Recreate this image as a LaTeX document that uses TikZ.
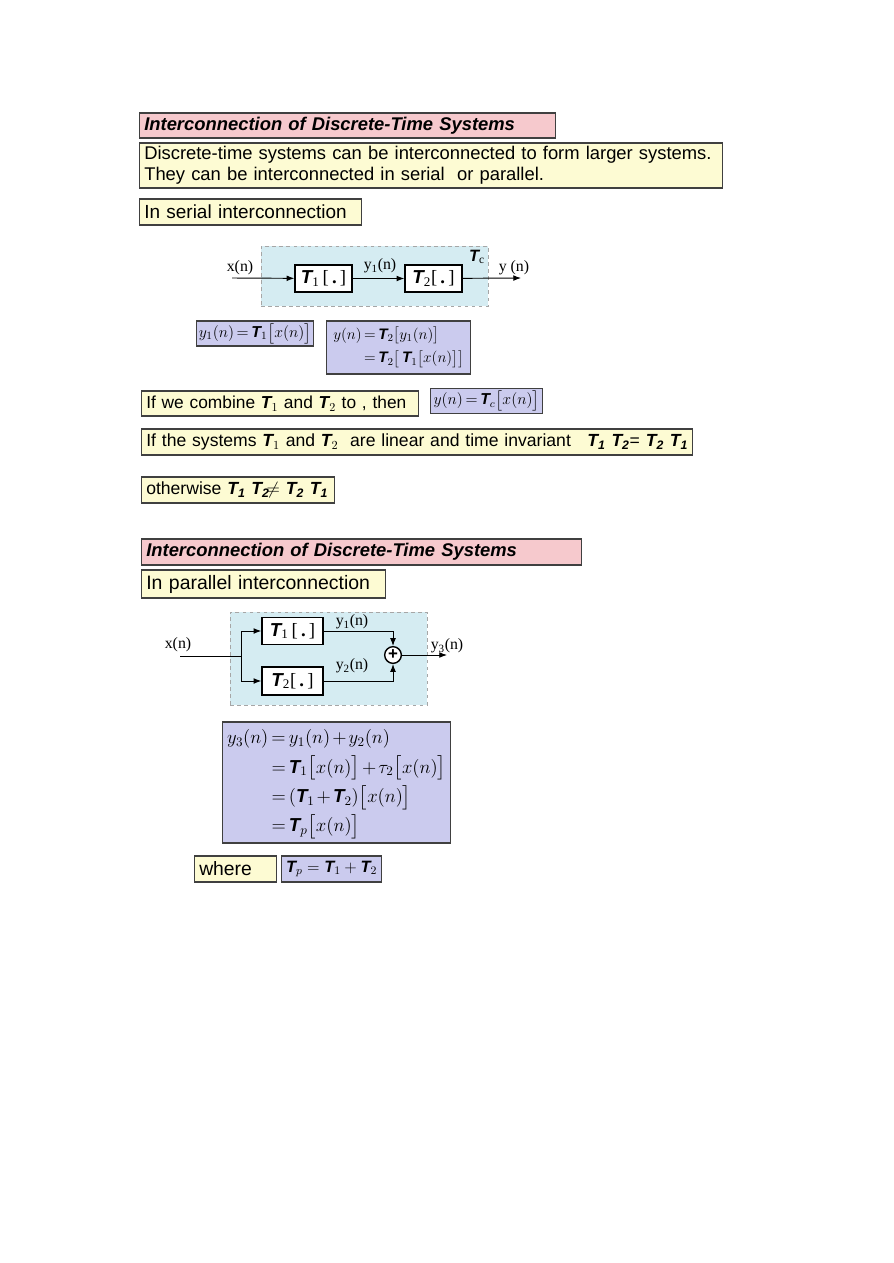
\RequirePackage{fix-cm}
\documentclass[tikz,border=0pt]{standalone}
\usepackage{amsmath}
\usepackage{fontspec}
\setmainfont{Liberation Sans}
\setsansfont{Liberation Sans}
\newfontfamily\serif{Liberation Serif}
\usetikzlibrary{arrows.meta, positioning}
\definecolor{pinkbg}{HTML}{F6C9CD}
\definecolor{yellowbg}{HTML}{FDFBD3}
\definecolor{lilacbg}{HTML}{CBCBEE}
\definecolor{bluebg}{HTML}{D5ECF2}
\newcommand{\TT}{\text{\sffamily\bfseries\itshape T}}
\newcommand{\Tbi}[1]{{\bfseries\itshape T\textsubscript{#1}}}
\newcommand{\fs}[1]{\fontsize{#1}{1.2\dimexpr#1pt\relax}\selectfont}
\newcommand{\tightmath}{\thickmuskip=3mu\relax\medmuskip=2mu\relax}

\begin{document}
\begin{tikzpicture}[x=0.03cm, y=-0.03cm,
  box/.style={draw=black!75, line width=1pt, anchor=west, align=left, inner xsep=4pt, inner ysep=2pt},
  titlebox/.style={box, fill=pinkbg, font=\fs{15.7}\bfseries\itshape},
  textbox/.style={box, fill=yellowbg, font=\fs{15.7}},
  eqbox/.style={box, fill=lilacbg, inner xsep=2pt, font=\fs{13.5}\tightmath},
  area/.style={draw=black!35, dashed, fill=bluebg},
  sysbox/.style={draw, line width=1.2pt, fill=white, minimum height=0.81cm, minimum width=1.71cm, font=\fs{16}},
  lbl/.style={font=\serif\fs{13.5}, inner sep=1pt},
  arr/.style={-{Latex}, thick}
]
\useasboundingbox (0,0) rectangle (893,1263);

\node[titlebox, text width=12.2cm, minimum height=0.75cm] (title1) at (139,125.5) {Interconnection of Discrete-Time Systems};
\node[textbox, text width=17.21cm, minimum height=1.35cm, font=\fontsize{15.7}{18}\selectfont] (intro) at (139,165.5) {Discrete-time systems can be interconnected to form larger systems.\\They can be interconnected in serial \ or parallel.};
\node[textbox, text width=6.38cm, minimum height=0.78cm, font=\fs{16.2}] (serial) at (139,212) {In serial interconnection};

\node[area, minimum width=6.81cm, minimum height=1.8cm] (ser) at (374.5,276) {};
\node[sysbox] (t1) at (323.5,278.5) {\TT\textsubscript{\serif 1}\,{\serif[\,\textbf{.}\,]}};
\node[sysbox] (t2) at (433.5,278.5) {\TT\textsubscript{\serif 2}{\serif[\,\textbf{.}\,]}};
\coordinate (xin) at (232,278);
\coordinate (yout) at (521,278);
\draw[arr] (xin) -- (t1);
\draw[arr] (t1) -- (t2);
\draw[arr] (t2) -- (yout);
\node[lbl] (xlab) at (240,268) {x(n)};
\node[lbl] (y1lab) at (380,266) {y\textsubscript{1}(n)};
\node[lbl] (ylab) at (514,268) {y (n)};
\node[font=\fs{14}, inner sep=1pt] (tc) at (477,257) {\TT\textsubscript{\serif c}};

\node[eqbox, minimum width=3.45cm, minimum height=0.75cm] (eq1) at (196,333.5) {$y_1(n)=\TT_1\bigl[x(n)\bigr]$};
\node[eqbox, minimum width=4.32cm, minimum height=1.59cm, font=\fs{13}\tightmath] (eq2) at (326,347.5) {$\begin{aligned}y(n)&=\TT_2\bigl[y_1(n)\bigr]\\&=\TT_2\bigl[\,\TT_1\bigl[x(n)\bigr]\bigr]\end{aligned}$};

\node[textbox, text width=8.03cm, minimum height=0.75cm, font=\fs{14.8}] (combine) at (141,403.5) {If we combine $\TT_1$ and $\TT_2$ to , then};
\node[eqbox, minimum width=3.36cm, minimum height=0.72cm] (eqc) at (430,401) {$y(n)=\TT_c\bigl[x(n)\bigr]$};
\node[textbox, text width=16.25cm, minimum height=0.78cm, font=\fs{15}] (lti) at (141,442) {If the systems $\TT_1$ and $\TT_2$ \ are linear and time invariant\hfill\Tbi{1} \Tbi{2}= \Tbi{2} \Tbi{1}\ };
\node[textbox, text width=5.51cm, minimum height=0.78cm, font=\fs{15}] (other) at (141,490) {otherwise \Tbi{1} \Tbi{2}$\!\neq$ \Tbi{2} \Tbi{1}};

\node[titlebox, text width=12.92cm, minimum height=0.78cm] (title2) at (141,552) {Interconnection of Discrete-Time Systems};
\node[textbox, text width=7.04cm, minimum height=0.84cm, font=\fs{16.6}] (parallel) at (141,584) {In parallel interconnection};

\node[area, minimum width=5.91cm, minimum height=2.79cm] (par) at (328.5,658.5) {};
\node[sysbox, minimum width=1.83cm] (t3) at (292.5,631) {\TT\textsubscript{\serif 1}\,{\serif[\,\textbf{.}\,]}};
\node[sysbox, minimum width=1.83cm, minimum height=0.84cm] (t4) at (292.5,681) {\TT\textsubscript{\serif 2}{\serif[\,\textbf{.}\,]}};
\node[draw, circle, line width=1.2pt, fill=white, minimum size=0.5cm, inner sep=0pt, font=\bfseries\Large] (sum) at (393,655) {+};
\coordinate (pin) at (180,656);
\coordinate (split) at (241,656);
\coordinate (pout) at (447,655);
\draw[thick] (pin) -- (split);
\draw[arr] (split) |- (t3);
\draw[arr] (split) |- (t4);
\draw[arr] (t3) -| (sum);
\draw[arr] (t4) -| (sum);
\draw[arr] (sum) -- (pout);
\node[lbl] (xlab2) at (178,645) {x(n)};
\node[lbl] (y1lab2) at (352,622) {y\textsubscript{1}(n)};
\node[lbl] (y2lab2) at (352,666) {y\textsubscript{2}(n)};
\node[lbl] (y3lab2) at (447,646) {y\textsubscript{3}(n)};

\node[eqbox, minimum width=6.84cm, minimum height=3.63cm, font=\fontsize{16}{22}\selectfont\tightmath] (eq3) at (222,782.5) {$\begin{aligned}y_3(n)&=y_1(n)+y_2(n)\\&=\TT_1\bigl[x(n)\bigr]+\tau_2\bigl[x(n)\bigr]\\&=(\TT_1+\TT_2)\bigl[x(n)\bigr]\\&=\TT_p\bigl[x(n)\bigr]\end{aligned}$};
\node[textbox, text width=2.18cm, minimum height=0.78cm, font=\fs{16.5}] (where) at (194,869) {where};
\node[eqbox, minimum width=3.0cm, minimum height=0.78cm, font=\fs{14}] (tp) at (281,869) {$\TT_p=\TT_1+\TT_2$};
\end{tikzpicture}
\end{document}
